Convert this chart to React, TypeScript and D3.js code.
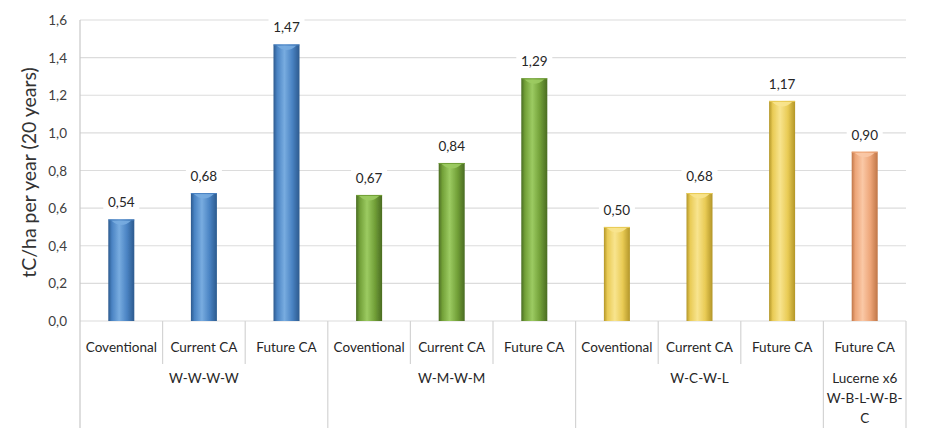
import React from "react";
import * as d3 from "d3";

// Carbon sequestration by rotation and management system
const categories = [
  "Coventional", "Current CA", "Future CA",
  "Coventional", "Current CA", "Future CA",
  "Coventional", "Current CA", "Future CA",
  "Future CA",
];
const values = [0.54, 0.68, 1.47, 0.67, 0.84, 1.29, 0.5, 0.68, 1.17, 0.9];
const groupOf = [0, 0, 0, 1, 1, 1, 2, 2, 2, 3];
const groupLabels = [["W-W-W-W"], ["W-M-W-M"], ["W-C-W-L"], ["Lucerne x6", "W-B-L-W-B-", "C"]];
const groupPalettes = [
  { dark: "#2c5a8e", mid: "#4a83c3", light: "#78ace0" },
  { dark: "#4a6c22", mid: "#72a038", light: "#9ccb62" },
  { dark: "#b39628", mid: "#e9cb55", light: "#f8e48e" },
  { dark: "#c07648", mid: "#eda578", light: "#fac8a6" },
];
const yTicks = [0, 0.2, 0.4, 0.6, 0.8, 1.0, 1.2, 1.4, 1.6];

const W = 926;
const H = 428;
const left = 80;
const right = 906;
const top = 20;
const base = 321;
const font = "Lato, 'Open Sans', sans-serif";
const fmt = (v: number) => v.toFixed(2).replace(".", ",");

export default function App() {
  const x = d3.scaleBand<number>().domain(d3.range(categories.length)).range([left, right]).padding(0);
  const y = d3.scaleLinear().domain([0, 1.6]).range([base, top]);
  const bw = 26;

  // boundaries between the rotation groups
  const groupEdges: number[] = [];
  for (let i = 1; i < categories.length; i++) if (groupOf[i] !== groupOf[i - 1]) groupEdges.push(x(i)!);
  const groupCenters = groupLabels.map((_, g) => {
    const idx = d3.range(categories.length).filter((i) => groupOf[i] === g);
    return (x(idx[0])! + x(idx[idx.length - 1])! + x.bandwidth()) / 2;
  });

  return (
    <svg width={W} height={H} style={{ position: "absolute", left: 0, top: 0, background: "#fff" }}>
      <defs>
        {groupPalettes.map((p, i) => (
          <linearGradient key={i} id={`cyl${i}`} x1="0" x2="1" y1="0" y2="0">
            <stop offset="0" stopColor={p.dark} />
            <stop offset="0.14" stopColor={p.mid} />
            <stop offset="0.42" stopColor={p.light} />
            <stop offset="0.72" stopColor={p.mid} />
            <stop offset="1" stopColor={p.dark} />
          </linearGradient>
        ))}
        <filter id="soft" x="-20%" y="-20%" width="140%" height="140%">
          <feGaussianBlur stdDeviation="0.4" />
        </filter>
      </defs>
      <rect x={0} y={0} width={W} height={H} fill="#fff" />

      {/* gridlines */}
      {yTicks.map((t) => (
        <line key={t} x1={left} x2={right} y1={y(t)} y2={y(t)} stroke="#dcdcdc" strokeWidth={1.2} />
      ))}

      {/* axis and category dividers */}
      <line x1={left} x2={left} y1={top} y2={H} stroke="#c8c8c8" strokeWidth={1.2} />
      <line x1={right} x2={right} y1={base} y2={H} stroke="#d4d4d4" strokeWidth={1.2} />
      {d3.range(1, categories.length).map((i) => (
        <line key={i} x1={x(i)} x2={x(i)} y1={base} y2={groupEdges.includes(x(i)!) ? H : 364} stroke="#d4d4d4" strokeWidth={1.2} />
      ))}

      {/* y tick labels */}
      {yTicks.map((t) => (
        <text key={t} x={67} y={y(t) + 5} textAnchor="end" fontSize={13.5} fill="#404040" fontFamily={font}>
          {t.toFixed(1).replace(".", ",")}
        </text>
      ))}

      {/* y axis title */}
      <text transform={`translate(36,${(top + base) / 2 + 2}) rotate(-90)`} textAnchor="middle" fontSize={19.5} fill="#333" fontFamily={font}>
        tC/ha per year (20 years)
      </text>

      {/* bars */}
      {values.map((v, i) => {
        const cx = x(i)! + x.bandwidth() / 2;
        const p = groupPalettes[groupOf[i]];
        const yt = y(v);
        return (
          <g key={i} filter="url(#soft)">
            <rect x={cx - bw / 2} y={yt} width={bw} height={base - yt} fill={`url(#cyl${groupOf[i]})`} />
            <path
              d={`M${cx - bw / 2 + 3},${yt + 1} Q${cx},${yt + 10} ${cx + bw / 2 - 3},${yt + 1} Z`}
              fill={p.light}
              opacity={0.9}
            />
            <line x1={cx - bw / 2} x2={cx + bw / 2} y1={yt + 0.5} y2={yt + 0.5} stroke={p.mid} strokeWidth={1} />
          </g>
        );
      })}

      {/* value labels */}
      {values.map((v, i) => {
        const cx = x(i)! + x.bandwidth() / 2;
        const yt = y(v);
        return (
          <g key={i}>
            <rect x={cx - 18} y={yt - 26} width={36} height={18} fill="#fff" />
            <text x={cx} y={yt - 12} textAnchor="middle" fontSize={13.5} fill="#262626" fontFamily={font}>
              {fmt(v)}
            </text>
          </g>
        );
      })}

      {/* category labels */}
      {categories.map((c, i) => (
        <text key={i} x={x(i)! + x.bandwidth() / 2} y={352} textAnchor="middle" fontSize={13.5} fill="#262626" fontFamily={font}>
          {c}
        </text>
      ))}

      {/* group labels */}
      {groupLabels.map((lines, g) =>
        lines.map((l, k) => (
          <text key={`${g}-${k}`} x={groupCenters[g]} y={383 + k * 20} textAnchor="middle" fontSize={13.5} fill="#262626" fontFamily={font}>
            {l}
          </text>
        ))
      )}
    </svg>
  );
}
